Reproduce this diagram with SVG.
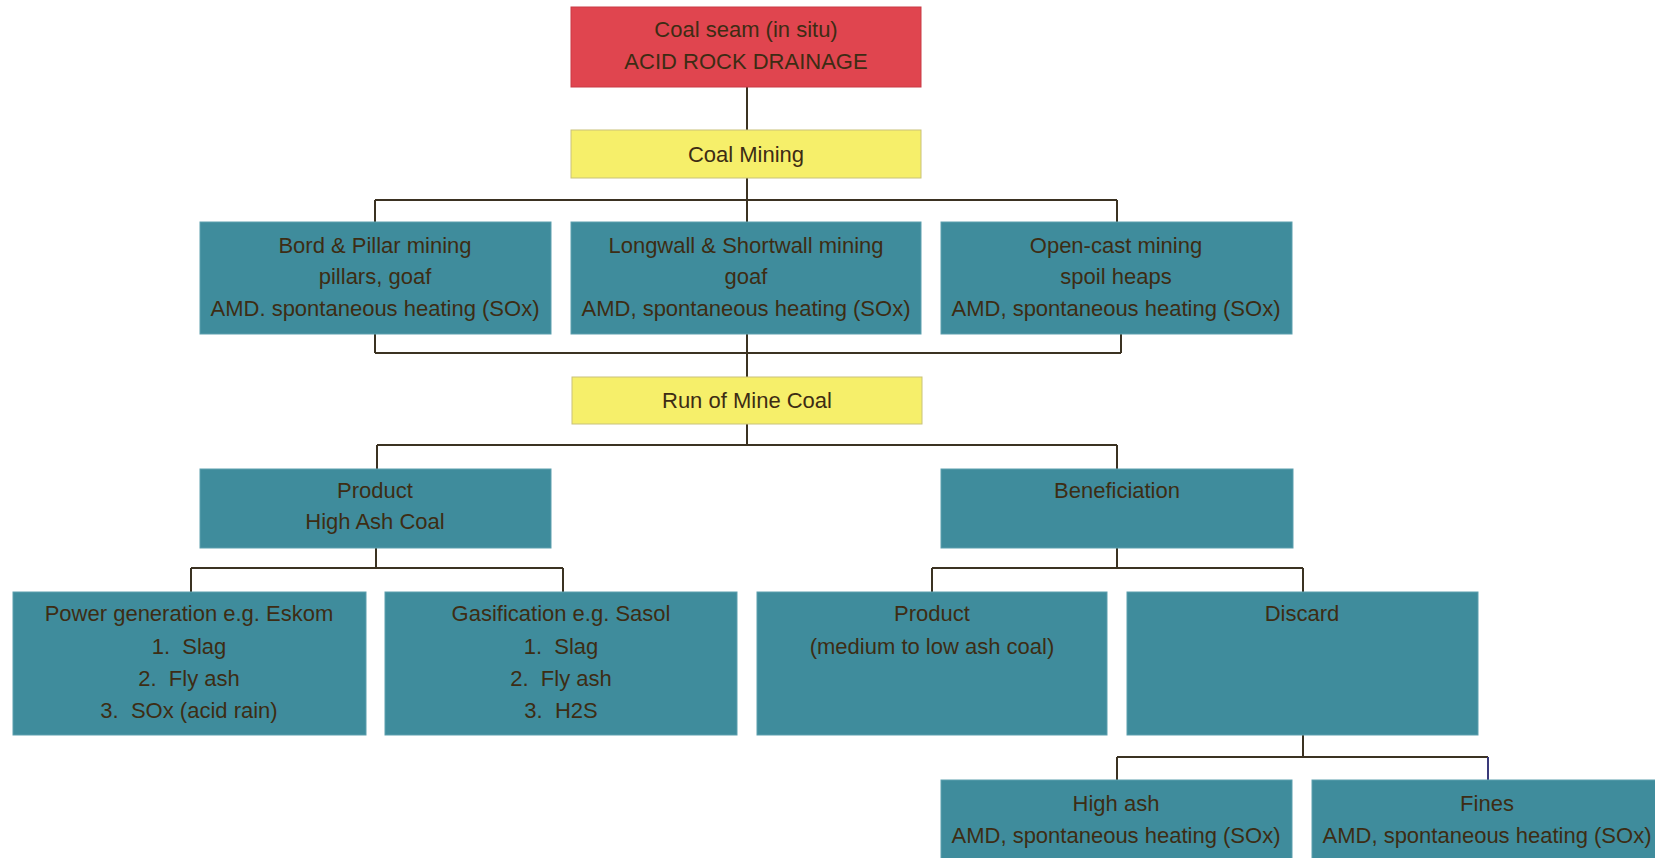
<svg xmlns="http://www.w3.org/2000/svg" width="1655" height="858" viewBox="0 0 1655 858">
<style>
.t{font-family:"Liberation Sans",Arial,sans-serif;font-size:22px;fill:#3d2c14;text-anchor:middle}
.teal{fill:#3f8c9c;stroke:#5c9fae;stroke-width:1}
.red{fill:#e0454f;stroke:#c93a44;stroke-width:1}
.yel{fill:#f6ef6a;stroke:#c9c27a;stroke-width:1}
.c{fill:none;stroke:#3b3222;stroke-width:2}
</style>
<rect width="1655" height="858" fill="#ffffff"/>
<g id="connectors">
<path class="c" d="M747 87V130"/>
<path class="c" d="M747 178V200M375 200H1117M375 200V222M747 200V222M1117 200V222"/>
<path class="c" d="M375 334V353M747 334V377M1121 334V353M375 353H1121"/>
<path class="c" d="M747 424V445M377 445H1117M377 445V469M1117 445V469"/>
<path class="c" d="M376 548V568M191 568H563M191 568V592M563 568V592"/>
<path class="c" d="M1117 548V568M932 568H1303M932 568V592M1303 568V592"/>
<path class="c" d="M1303 735V757M1117 757H1488M1117 757V780"/>
<path d="M1488 757V780" fill="none" stroke="#3a3a7a" stroke-width="2"/>
</g>
<g id="coal-seam">
<rect class="red" x="571" y="7" width="350" height="80"/>
<text class="t" x="746" y="37">Coal seam (in situ)</text>
<text class="t" x="746" y="69">ACID ROCK DRAINAGE</text>
</g>
<g id="coal-mining">
<rect class="yel" x="571" y="130" width="350" height="48"/>
<text class="t" x="746" y="162">Coal Mining</text>
</g>
<g id="bord-pillar">
<rect class="teal" x="200" y="222" width="351" height="112"/>
<text class="t" x="375" y="253">Bord &amp; Pillar mining</text>
<text class="t" x="375" y="284">pillars, goaf</text>
<text class="t" x="375" y="316">AMD. spontaneous heating (SOx)</text>
</g>
<g id="longwall">
<rect class="teal" x="571" y="222" width="350" height="112"/>
<text class="t" x="746" y="253">Longwall &amp; Shortwall mining</text>
<text class="t" x="746" y="284">goaf</text>
<text class="t" x="746" y="316">AMD, spontaneous heating (SOx)</text>
</g>
<g id="open-cast">
<rect class="teal" x="941" y="222" width="351" height="112"/>
<text class="t" x="1116" y="253">Open-cast mining</text>
<text class="t" x="1116" y="284">spoil heaps</text>
<text class="t" x="1116" y="316">AMD, spontaneous heating (SOx)</text>
</g>
<g id="run-of-mine">
<rect class="yel" x="572" y="377" width="350" height="47"/>
<text class="t" x="747" y="408">Run of Mine Coal</text>
</g>
<g id="product-high-ash">
<rect class="teal" x="200" y="469" width="351" height="79"/>
<text class="t" x="375" y="498">Product</text>
<text class="t" x="375" y="529">High Ash Coal</text>
</g>
<g id="beneficiation">
<rect class="teal" x="941" y="469" width="352" height="79"/>
<text class="t" x="1117" y="498">Beneficiation</text>
</g>
<g id="power-generation">
<rect class="teal" x="13" y="592" width="353" height="143"/>
<text class="t" x="189" y="621">Power generation e.g. Eskom</text>
<text class="t" x="189" y="654">1.&#160;&#160;Slag</text>
<text class="t" x="189" y="686">2.&#160;&#160;Fly ash</text>
<text class="t" x="189" y="718">3.&#160;&#160;SOx (acid rain)</text>
</g>
<g id="gasification">
<rect class="teal" x="385" y="592" width="352" height="143"/>
<text class="t" x="561" y="621">Gasification e.g. Sasol</text>
<text class="t" x="561" y="654">1.&#160;&#160;Slag</text>
<text class="t" x="561" y="686">2.&#160;&#160;Fly ash</text>
<text class="t" x="561" y="718">3.&#160;&#160;H2S</text>
</g>
<g id="product-medium">
<rect class="teal" x="757" y="592" width="350" height="143"/>
<text class="t" x="932" y="621">Product</text>
<text class="t" x="932" y="654">(medium to low ash coal)</text>
</g>
<g id="discard">
<rect class="teal" x="1127" y="592" width="351" height="143"/>
<text class="t" x="1302" y="621">Discard</text>
</g>
<g id="high-ash">
<rect class="teal" x="941" y="780" width="351" height="80"/>
<text class="t" x="1116" y="811">High ash</text>
<text class="t" x="1116" y="843">AMD, spontaneous heating (SOx)</text>
</g>
<g id="fines">
<rect class="teal" x="1312" y="780" width="350" height="80"/>
<text class="t" x="1487" y="811">Fines</text>
<text class="t" x="1487" y="843">AMD, spontaneous heating (SOx)</text>
</g>
</svg>
